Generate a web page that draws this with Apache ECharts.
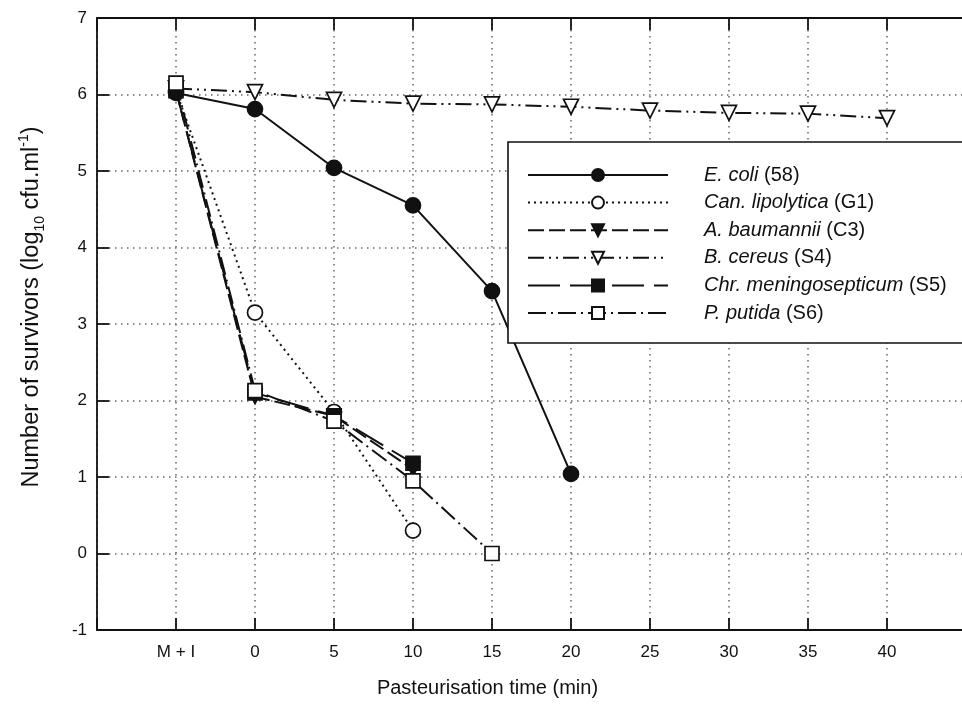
<!DOCTYPE html>
<html>
<head>
<meta charset="utf-8">
<script src="https://cdn.jsdelivr.net/npm/echarts@6/dist/echarts.min.js"></script>
<style>html,body{margin:0;padding:0;background:#fff;}#c{width:962px;height:714px;}</style>
</head>
<body>
<div id="c"></div>
<script>
// Stage labels along the x axis; "M + I" is placed one step before time 0
const stageLabels = ['M + I', '0', '5', '10', '15', '20', '25', '30', '35', '40'];
const stageTimes  = [-5, 0, 5, 10, 15, 20, 25, 30, 35, 40];

const speciesNames = ['E. coli', 'Can. lipolytica', 'A. baumannii', 'B. cereus', 'Chr. meningosepticum', 'P. putida'];
const strainCodes  = ['(58)', '(G1)', '(C3)', '(S4)', '(S5)', '(S6)'];

// log10 cfu/ml survivors, aligned with stageLabels
const eColi          = [6.02, 5.81, 5.04, 4.55, 3.43, 1.04];
const canLipolytica  = [6.05, 3.15, 1.85, 0.30];
const aBaumannii     = [6.05, 2.05, 1.80, 1.10];
const bCereus        = [6.08, 6.03, 5.93, 5.88, 5.87, 5.84, 5.79, 5.76, 5.75, 5.69];
const chrMeningo     = [6.05, 2.10, 1.80, 1.18];
const pPutida        = [6.15, 2.13, 1.73, 0.95, 0.00];

const yTicks = [-1, 0, 1, 2, 3, 4, 5, 6, 7];

const seriesValues = [eColi, canLipolytica, aBaumannii, bCereus, chrMeningo, pPutida];
const symbols   = ['circle', 'circle', 'triangle', 'triangle', 'rect', 'rect'];
const rotations = [0, 0, 180, 180, 0, 0];
const filled    = [true, false, true, false, true, false];
const dashes    = ['solid', [2, 4], [16, 5], [16, 5, 2, 5, 2, 5], [32, 10], [18, 5, 2, 5]];
const sizes     = [15, 15, 14, 15, 14, 14];

const INK = '#111';
const FONT = '"Liberation Sans", Arial, sans-serif';

const series = seriesValues.map((vals, i) => ({
  name: speciesNames[i] + ' ' + strainCodes[i],
  type: 'line',
  data: vals.map((v, k) => [stageTimes[k], v]),
  symbol: symbols[i],
  symbolSize: sizes[i],
  symbolRotate: rotations[i],
  showAllSymbol: true,
  lineStyle: { color: INK, width: 2, type: dashes[i] },
  itemStyle: { color: filled[i] ? INK : '#fff', borderColor: INK, borderWidth: 1.7, opacity: 1 },
  emphasis: { disabled: true },
  animation: false,
  z: 2 + i
}));

const labelFor = v => {
  const idx = stageTimes.indexOf(v);
  return idx >= 0 ? stageLabels[idx] : '';
};

const gridLine = { show: true, lineStyle: { color: '#666', width: 1.5, type: [1.5, 4.5] } };
const axisLn = { show: true, onZero: false, lineStyle: { color: INK, width: 1.8 } };
const tick = { show: true, inside: true, length: 12, lineStyle: { color: INK, width: 1.8 } };

const option = {
  backgroundColor: '#fff',
  animation: false,
  grid: { left: 97, top: 18, width: 869, height: 612, containLabel: false, outerBoundsMode: 'none' },
  xAxis: [{
    type: 'value', min: -10, max: 45, interval: 5,
    position: 'bottom',
    axisLine: axisLn,
    axisTick: tick,
    axisLabel: { formatter: labelFor, color: INK, fontSize: 17, fontFamily: FONT, margin: 14 },
    splitLine: gridLine,
    name: 'Pasteurisation time (min)',
    nameLocation: 'middle', nameGap: 48,
    nameTextStyle: { color: INK, fontSize: 20, fontFamily: FONT, padding: [0, 88, 0, 0] }
  }, {
    type: 'value', min: -10, max: 45, interval: 5,
    position: 'top',
    axisLine: axisLn,
    axisTick: tick,
    axisLabel: { show: false },
    splitLine: { show: false }
  }],
  yAxis: [{
    type: 'value', min: yTicks[0], max: yTicks[yTicks.length - 1], interval: 1,
    axisLine: axisLn,
    axisTick: tick,
    axisLabel: { color: INK, fontSize: 17, fontFamily: FONT, margin: 10 },
    splitLine: gridLine,
    name: '{a|Number of survivors (log}{s|10}{a| cfu.ml}{p|-1}{a|)}',
    nameLocation: 'middle', nameGap: 50, nameRotate: 90,
    nameTextStyle: {
      color: INK, fontFamily: FONT,
      padding: [0, 0, 0, 34],
      rich: {
        a: { fontSize: 23.5, fontFamily: FONT, color: INK, lineHeight: 30, verticalAlign: 'middle' },
        s: { fontSize: 14, fontFamily: FONT, color: INK, lineHeight: 30, verticalAlign: 'bottom' },
        p: { fontSize: 14, fontFamily: FONT, color: INK, lineHeight: 30, verticalAlign: 'top' }
      }
    }
  }, {
    type: 'value', min: yTicks[0], max: yTicks[yTicks.length - 1], interval: 1,
    position: 'right',
    axisLine: axisLn,
    axisTick: { show: false }, axisLabel: { show: false }, splitLine: { show: false }
  }],
  legend: {
    orient: 'vertical',
    left: 508, top: 142,
    padding: [21, 40, 18, 19],
    itemWidth: 140, itemHeight: 15,
    itemGap: 3.6,
    backgroundColor: '#fff',
    borderColor: INK, borderWidth: 1.6,
    selectedMode: false,
    data: series.map(s => s.name),
    formatter: name => {
      const i = series.findIndex(s => s.name === name);
      return '{i|' + speciesNames[i] + '}{n| ' + strainCodes[i] + '}';
    },
    textStyle: {
      color: INK, fontSize: 20, fontFamily: FONT, lineHeight: 24,
      padding: [0, 0, 0, 31],
      rich: {
        i: { fontStyle: 'italic', fontSize: 20, fontFamily: FONT, color: INK, lineHeight: 24 },
        n: { fontSize: 20, fontFamily: FONT, color: INK, lineHeight: 24 }
      }
    }
  },
  series: series
};

const chart = echarts.init(document.getElementById('c'), null, { renderer: 'canvas' });
chart.setOption(option);
</script>
</body>
</html>
